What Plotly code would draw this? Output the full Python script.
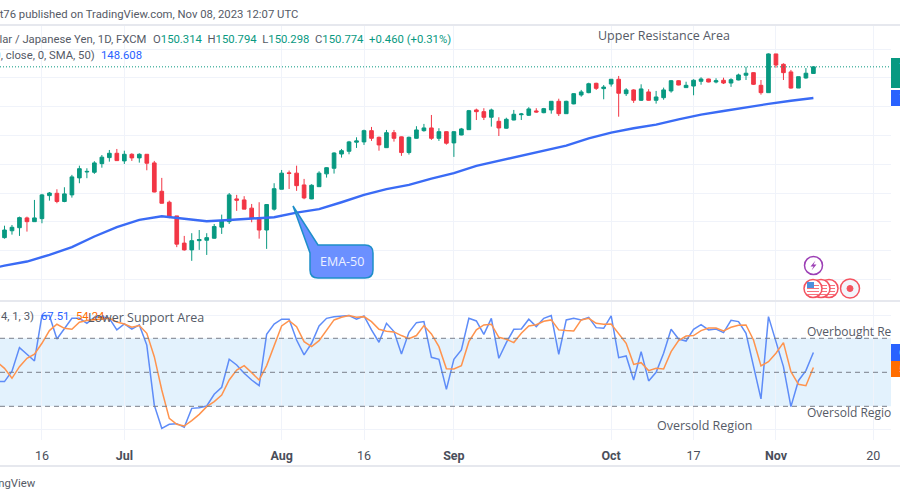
import pandas as pd
import plotly.graph_objects as go

dates = pd.bdate_range("2023-06-09", "2023-11-08")
bar_index = list(range(len(dates)))

opens = [138.91,139.39,139.60,140.28,140.02,140.23,141.83,141.99,141.42,141.88,143.06,143.47,143.45,144.05,144.47,144.77,144.24,144.70,144.45,144.70,
144.10,142.13,141.37,140.42,138.53,138.06,138.70,138.73,138.87,139.64,140.02,141.60,141.53,140.96,140.30,139.44,140.89,142.27,143.41,143.39,
142.57,141.60,142.45,143.34,143.73,144.72,144.91,145.54,145.56,146.34,145.88,145.16,146.20,145.91,144.82,145.81,146.34,146.53,145.81,146.27,
145.49,146.04,146.41,147.78,147.66,147.27,146.99,146.51,147.08,147.45,147.41,147.71,147.59,147.78,148.38,147.52,148.20,148.82,148.98,149.63,
149.26,149.58,149.91,148.91,149.17,148.45,149.03,148.45,148.63,149.10,149.81,149.33,149.44,149.77,149.93,149.72,149.84,149.65,149.86,150.19,
150.37,149.49,148.98,151.67,150.95,150.42,149.30,150.00,150.314]
highs = [139.74,139.79,140.37,140.37,141.53,141.95,142.08,142.27,142.41,143.27,143.91,143.73,144.22,144.65,145.00,145.07,144.95,144.77,144.77,144.72,
144.24,143.06,141.48,140.42,139.03,139.22,139.44,139.22,139.86,140.51,142.01,141.88,141.79,141.25,141.37,141.23,142.69,143.61,143.57,143.91,
142.99,142.62,143.52,143.80,144.84,145.07,145.63,145.88,146.41,146.60,145.93,146.39,146.39,145.93,145.93,146.65,146.81,147.43,146.51,146.30,
146.30,146.53,147.78,147.87,147.90,147.87,147.27,147.24,147.78,147.57,147.97,147.90,147.92,148.38,148.56,148.42,148.94,149.17,149.67,149.67,
149.51,149.91,150.14,149.29,149.22,149.56,149.22,149.10,149.33,149.86,149.84,149.74,149.91,150.05,149.95,149.98,150.02,149.98,150.30,150.78,
150.40,149.86,151.71,151.67,151.02,150.56,150.09,150.69,150.794]
lows = [138.84,139.12,139.03,139.33,140.02,139.91,141.48,141.30,141.37,141.69,142.69,143.04,143.34,143.77,144.19,144.24,144.03,144.24,144.12,143.59,
142.06,141.28,140.26,138.25,138.01,137.30,138.06,137.71,138.84,139.17,139.86,140.77,140.89,139.98,138.84,138.13,140.79,142.27,142.29,142.16,
141.58,141.58,142.45,143.08,143.36,144.47,144.70,145.14,145.35,145.63,144.95,145.14,145.58,144.59,144.68,145.78,146.27,145.70,145.63,145.37,
144.52,146.02,146.39,147.08,147.08,146.62,145.97,146.48,147.06,147.08,147.36,147.59,147.55,147.52,147.36,147.50,148.17,148.70,148.94,149.17,
148.52,149.40,147.31,148.75,148.27,148.40,148.42,148.22,148.49,148.98,149.49,149.31,148.80,149.53,149.70,149.63,149.58,149.38,149.84,149.86,
149.51,148.84,148.98,150.71,149.86,149.26,149.30,149.95,150.298]
closes = [139.44,139.63,140.30,140.02,140.28,141.88,142.01,141.42,141.95,143.13,143.70,143.51,144.10,144.50,144.77,144.26,144.70,144.45,144.70,144.08,
142.08,141.30,140.33,138.46,138.06,138.70,138.78,138.91,139.68,140.07,141.88,141.51,140.89,140.26,139.44,141.21,142.31,143.39,143.37,142.52,
141.67,142.55,143.39,143.77,144.79,144.95,145.56,145.63,146.34,145.81,145.35,146.20,145.81,144.82,145.88,146.39,146.53,145.81,146.27,145.47,
146.27,146.46,147.73,147.66,147.27,147.78,146.53,147.13,147.48,147.50,147.85,147.64,147.87,148.38,147.52,148.38,148.91,149.03,149.60,149.28,
149.37,149.91,148.94,149.17,148.45,149.24,148.45,148.68,149.17,149.81,149.51,149.49,149.84,149.93,149.72,149.81,149.65,149.88,150.21,150.33,
149.56,148.98,151.67,150.90,150.37,149.30,150.09,150.33,150.774]

ma_index = [-1] + list(range(0, 109, 3))
ma_values = [136.85,136.97,137.25,137.72,138.25,138.99,139.64,140.14,140.40,140.24,140.05,140.14,140.21,140.33,140.65,140.89,141.37,141.88,142.28,142.57,
143.01,143.39,143.89,144.24,144.59,144.95,145.30,145.80,146.20,146.51,146.76,147.13,147.45,147.71,147.97,148.20,148.42,148.608]

stoch_index = [-1] + bar_index
stoch_k = [41.8,41.8,51,71.8,65.9,60,100,100,79.4,88,97.6,97.6,93.2,98.5,99,97.6,87.4,92.6,88,91.8,74,
21,0.6,4.1,4.7,1.5,18.2,18.8,20.3,30.6,36.8,61.5,56.5,49.1,43.2,38.2,83.5,92.6,96.8,96.8,78.5,
65.3,75.6,90.9,97.6,99,99.7,100,96.8,99.7,87.4,76.5,93.2,85.9,66.2,85.3,93.8,94.7,63.2,61.5,35,
61.5,69.7,97.6,95.3,83.5,97.6,62.4,76.2,87.9,88.2,96.8,90.3,97.6,100,65.9,96.2,97.6,96.2,98.5,89.4,
88.8,99.7,62.9,64.4,43.2,68.2,42.4,50,66.8,87.9,79.4,77.6,87.9,92,87.4,88.2,85,95.9,94.7,84.4,
56.5,26.5,99.1,77,55,19.7,42.6,51.5,67.51]
stoch_d = [59,53.5,44.7,55,62.4,65.9,75.6,86.8,92.4,88.8,87.9,94.1,95.6,96.2,96.8,97.6,94.4,92.6,89.7,91.2,84.4,
63.8,34.4,9.4,4.1,2.6,7.4,12.9,19.7,24.1,30,43.2,52,55.9,49.7,43.2,55.9,72.6,90.9,95.6,90.3,
77,72.6,77.9,87.4,96.2,98.5,100,98.5,99.1,94.7,87.9,86.2,85.6,82.4,79.7,82.4,91.2,83.8,72.6,53.2,
52.9,55.9,77,87.4,91.8,92.4,80.9,79.1,76.2,84.4,90.9,92,95,96.2,87.4,86.8,86.5,96.2,97.6,93.2,
92.4,92.6,84.4,75.6,57,58.5,51.5,53.5,52.9,68.2,77.9,82,82.4,86.8,89.1,89.1,86.5,89.7,91.5,91.8,
78.5,55.6,59.4,66.8,76.2,50.6,39.4,38.2,54.24]

tick_dates = ["2023-06-16","2023-07-03","2023-08-01","2023-08-16","2023-09-01","2023-10-02","2023-10-17","2023-11-01","2023-11-20"]
tick_labels = ["16","<b>Jul</b>","<b>Aug</b>","16","<b>Sep</b>","<b>Oct</b>","17","<b>Nov</b>","20"]
all_dates = pd.bdate_range("2023-06-09", "2023-12-01")
tick_index = [list(all_dates).index(pd.Timestamp(d)) for d in tick_dates]
price_grid = [136,138,140,142,144,146,148,150,152]
last_close = 150.774
last_ma = 148.608

GREEN = "#089981"; RED = "#f23645"; BLUE = "#2962ff"; GRID = "#f0f3fa"; TEXT = "#555a66"
FONT = "Roboto"; FONT2 = "Open Sans"
W, H = 900, 500
px = lambda v: v / W
py = lambda v: 1 - v / H

fig = go.Figure()
fig.add_trace(go.Candlestick(x=bar_index, open=opens, high=highs, low=lows, close=closes,
    increasing=dict(line=dict(color=GREEN, width=1), fillcolor=GREEN),
    decreasing=dict(line=dict(color=RED, width=1), fillcolor=RED),
    whiskerwidth=0, xaxis="x", yaxis="y", showlegend=False))
fig.add_trace(go.Scatter(x=ma_index, y=ma_values, mode="lines", line=dict(color="#3a6bf5", width=2.4),
    xaxis="x", yaxis="y", showlegend=False))
fig.add_trace(go.Scatter(x=stoch_index, y=stoch_k, mode="lines", line=dict(color="#5e8cf8", width=1.5), xaxis="x2", yaxis="y2", showlegend=False))
fig.add_trace(go.Scatter(x=stoch_index, y=stoch_d, mode="lines", line=dict(color="#ff934d", width=1.5), xaxis="x2", yaxis="y2", showlegend=False))

xr = [-0.60, 118.36]
common_x = dict(range=xr, tickmode="array", tickvals=tick_index, showgrid=True, gridcolor=GRID, gridwidth=1, zeroline=False, fixedrange=True)
shapes = []
shapes.append(dict(type="rect", xref="x2", yref="y2", x0=xr[0], x1=xr[1], y0=20, y1=80, fillcolor="#e3f2fd", line_width=0, layer="below"))
for lv in (80, 50, 20):
    shapes.append(dict(type="line", xref="x2", yref="y2", x0=xr[0], x1=xr[1], y0=lv, y1=lv, line=dict(color="#7a7f8a", width=1, dash="5px,4px")))
shapes.append(dict(type="line", xref="x", yref="y", x0=xr[0], x1=xr[1], y0=last_close, y1=last_close, line=dict(color=GREEN, width=1, dash="1px,2px")))
for yp in (25, 301, 466):
    shapes.append(dict(type="line", xref="paper", yref="paper", x0=0, x1=1, y0=py(yp), y1=py(yp), line=dict(color="#e6e8ee", width=2)))
shapes.append(dict(type="rect", xref="paper", yref="paper", x0=px(891), x1=1, y0=py(88), y1=py(58), fillcolor=GREEN, line_width=0))
shapes.append(dict(type="rect", xref="paper", yref="paper", x0=px(891), x1=1, y0=py(106), y1=py(90), fillcolor=BLUE, line_width=0))
shapes.append(dict(type="rect", xref="paper", yref="paper", x0=px(891), x1=1, y0=py(361), y1=py(344), fillcolor=BLUE, line_width=0))
shapes.append(dict(type="rect", xref="paper", yref="paper", x0=px(891), x1=1, y0=py(377), y1=py(361), fillcolor="#ff6d00", line_width=0))

d = (f"M {px(293)},{py(206)} L {px(318)},{py(245)} L {px(365)},{py(245)} Q {px(373)},{py(245)} {px(373)},{py(253)} "
     f"L {px(373)},{py(270)} Q {px(373)},{py(278)} {px(365)},{py(278)} L {px(318)},{py(278)} Q {px(310)},{py(278)} {px(310)},{py(270)} "
     f"L {px(310)},{py(253)} Z")
shapes.append(dict(type="path", xref="paper", yref="paper", path=d, fillcolor="#6b90ff", line=dict(color="#1e8fc9", width=1.5)))

def circle(cx, cy, r, line, fill, w=1.5):
    return dict(type="circle", xref="paper", yref="paper", x0=px(cx-r), x1=px(cx+r), y0=py(cy+r), y1=py(cy-r), line=dict(color=line, width=w), fillcolor=fill)

shapes.append(circle(813.5, 265.5, 9, "#9c3fb5", "white"))
bolt = [(815.5, 260.5), (810.5, 266.5), (813.5, 266.5), (811.5, 270.5), (816.5, 264.5), (813.5, 264.5)]
shapes.append(dict(type="path", xref="paper", yref="paper", line_width=0, fillcolor="#9c3fb5",
                   path="M " + " L ".join(f"{px(a)},{py(b)}" for a, b in bolt) + " Z"))
for cx in (829, 821, 813):
    shapes.append(circle(cx, 288.5, 9, "#f4525f", "white"))
    for dy in (-3, 0, 3, 6):
        shapes.append(dict(type="line", xref="paper", yref="paper", x0=px(cx-6), x1=px(cx+6), y0=py(288.5+dy), y1=py(288.5+dy), line=dict(color="#f7727c", width=1)))
shapes.append(dict(type="rect", xref="paper", yref="paper", x0=px(807), x1=px(814), y0=py(288), y1=py(282), fillcolor="#4e8fdc", line_width=0))
shapes.append(circle(850, 288.5, 9.5, "#f4525f", "#f3f5fb"))
shapes.append(circle(850, 288.5, 3, "#f4525f", "#f4525f", 1))

def note(x, y, text, anchor="left", color=TEXT, size=11.3, family=FONT):
    shift = {"left": -2, "right": 2, "center": 0}[anchor]
    return dict(xref="paper", yref="paper", x=px(x + shift), y=py(y), text=text, showarrow=False, xanchor=anchor, yanchor="middle",
                font=dict(family=family, size=size, color=color), align="left")

val = lambda s, c=GREEN: f'<span style="color:{c}">{s}</span>'
annotations = [
    note(298, 14, "CryptoAnalyst76 published on TradingView.com, Nov 08, 2023 12:07 UTC", "right"),
    note(146, 40, "U.S. Dollar / Japanese Yen, 1D, FXCM", "right"),
    note(153, 40, f"O{val('150.314')}  H{val('150.794')}  L{val('150.298')}  C{val('150.774')}  {val('+0.460 (+0.31%)')}"),
    note(95, 56, "MA (50, close, 0, SMA, 50)", "right"),
    note(101, 56, val(f"{last_ma}", "#2962ff")),
    note(34, 316, "Stoch (14, 1, 3)", "right"),
    note(41, 316, val("67.51", "#2962ff")),
    note(76, 316, val("54.24", "#ff6d00")),
    note(88, 317, "Lower Support Area", size=12.5, family=FONT2),
    note(598, 36, "Upper Resistance Area", size=12.5, family=FONT2),
    note(807, 331, "Overbought Re", size=12, family=FONT2),
    note(807, 412, "Oversold Regio", size=12, family=FONT2),
    note(657, 425, "Oversold Region", size=12.5, family=FONT2),
    note(341.5, 261.5, "EMA-50", "center", "#eef2ff", 12.5, FONT2),
    note(36, 483, "TradingView", "right"),
    note(899, 66, "150.774", color="white", size=11),
    note(899, 98, "148.608", color="white", size=11),
    note(899, 352, "67.51", color="white", size=11),
    note(899, 369, "54.24", color="white", size=11),
]

fig.update_layout(
    width=W, height=H, margin=dict(l=0, r=0, t=0, b=0), paper_bgcolor="white", plot_bgcolor="white",
    showlegend=False, shapes=shapes, annotations=annotations,
    font=dict(family=FONT, size=12, color=TEXT),
    xaxis=dict(domain=[0, 891/W], anchor="y", showticklabels=False, ticks="", rangeslider=dict(visible=False), **common_x),
    xaxis2=dict(domain=[0, 891/W], anchor="y2", ticktext=tick_labels, ticks="outside", ticklen=4, tickcolor="rgba(0,0,0,0)",
                tickfont=dict(family=FONT, size=12.5, color="#4a4e5a"), **common_x),
    yaxis=dict(domain=[py(301), py(26)], range=[134.51, 153.61], tickmode="array", tickvals=price_grid, showticklabels=False,
               gridcolor=GRID, zeroline=False, fixedrange=True),
    yaxis2=dict(domain=[py(440), py(302)], range=[-9.7, 112], tickmode="array", tickvals=[0, 100], showticklabels=False,
                gridcolor=GRID, zeroline=False, fixedrange=True),
)
fig.write_html("out.html", config={"displayModeBar": False},
               post_script="document.body.style.margin='0';document.body.style.overflow='hidden';")
